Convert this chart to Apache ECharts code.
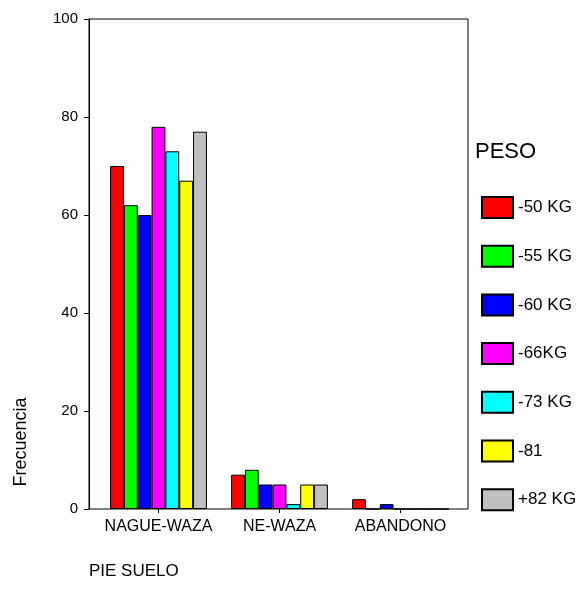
<!DOCTYPE html>
<html>
<head>
<meta charset="utf-8">
<script src="https://cdn.jsdelivr.net/npm/echarts@6/dist/echarts.min.js"></script>
<style>
  html, body { margin: 0; padding: 0; background: #fff; }
  #chart { width: 576px; height: 592px; }
</style>
</head>
<body>
<div id="chart"></div>
<script>
// categorías del eje X
const categorias = ['NAGUE-WAZA', 'NE-WAZA', 'ABANDONO']
// series por peso
const pesos = ['-50 KG', '-55 KG', '-60 KG', '-66KG', '-73 KG', '-81', '+82 KG']
const colores = ['#ff0000', '#00ff00', '#0000ff', '#ff00ff', '#00ffff', '#ffff00', '#c0c0c0']
const valores = [
    [70, 7, 2],
    [62, 8, 0],
    [60, 5, 1],
    [78, 5, 0],
    [73, 1, 0],
    [67, 5, 0],
    [77, 5, 0]
]
const ticksY = [0, 20, 40, 60, 80, 100]

const fuente = 'Liberation Sans, Arial, sans-serif'
let myChart = echarts.init(document.getElementById('chart'))

myChart.setOption({
    animation: false,
    textStyle: { fontFamily: fuente, color: '#000' },
    title: [
        { text: 'PIE SUELO', left: 84, top: 558, textStyle: { fontSize: 17, fontWeight: 'normal', color: '#000', fontFamily: fuente } },
        { text: 'PESO', left: 470, top: 136, textStyle: { fontSize: 22, fontWeight: 'normal', color: '#000', fontFamily: fuente } }
    ],
    graphic: [{
        type: 'text',
        x: 21,
        y: 442,
        rotation: Math.PI / 2,
        style: {
            text: 'Frecuencia',
            fontSize: 18,
            fontFamily: fuente,
            fill: '#000',
            align: 'center',
            verticalAlign: 'middle'
        }
    }],
    legend: {
        orient: 'vertical',
        left: 476,
        top: 191,
        itemWidth: 31,
        itemHeight: 21,
        itemGap: 25.7,
        icon: 'rect',
        data: pesos,
        textStyle: { fontSize: 17, color: '#000', fontFamily: fuente }
    },
    grid: [
        { // marco
            left: 89, top: 19, width: 379, height: 490,
            show: true, borderColor: '#000', borderWidth: 1, backgroundColor: 'transparent'
        },
        { // barras
            left: 98, top: 19, width: 363, height: 490
        }
    ],
    xAxis: [
        { gridIndex: 0, type: 'value', min: 0, max: 1, show: false },
        {
            gridIndex: 1,
            type: 'category',
            data: categorias,
            axisLine: { show: false },
            axisTick: { show: true, alignWithLabel: true, length: 4, lineStyle: { color: '#000' } },
            axisLabel: { interval: 0, fontSize: 16, color: '#000', margin: 10, fontFamily: fuente }
        }
    ],
    yAxis: [
        {
            gridIndex: 0,
            type: 'value',
            min: 0, max: 100, interval: 20,
            axisLine: { show: true, lineStyle: { color: '#000' } },
            axisTick: { show: true, length: 5, lineStyle: { color: '#000' } },
            splitLine: { show: false },
            axisLabel: {
                fontSize: 15, color: '#000', margin: 11, fontFamily: fuente,
                formatter: function (v) { return ticksY.indexOf(v) >= 0 ? String(v) : '' }
            }
        },
        { gridIndex: 1, type: 'value', min: 0, max: 100, show: false }
    ],
    series: pesos.map(function (nombre, i) {
        return {
            name: nombre,
            type: 'bar',
            xAxisIndex: 1,
            yAxisIndex: 1,
            barGap: '0%',
            barCategoryGap: '20%',
            data: valores[i],
            itemStyle: { color: colores[i], borderColor: '#000', borderWidth: 1 }
        }
    })
})
</script>
</body>
</html>
